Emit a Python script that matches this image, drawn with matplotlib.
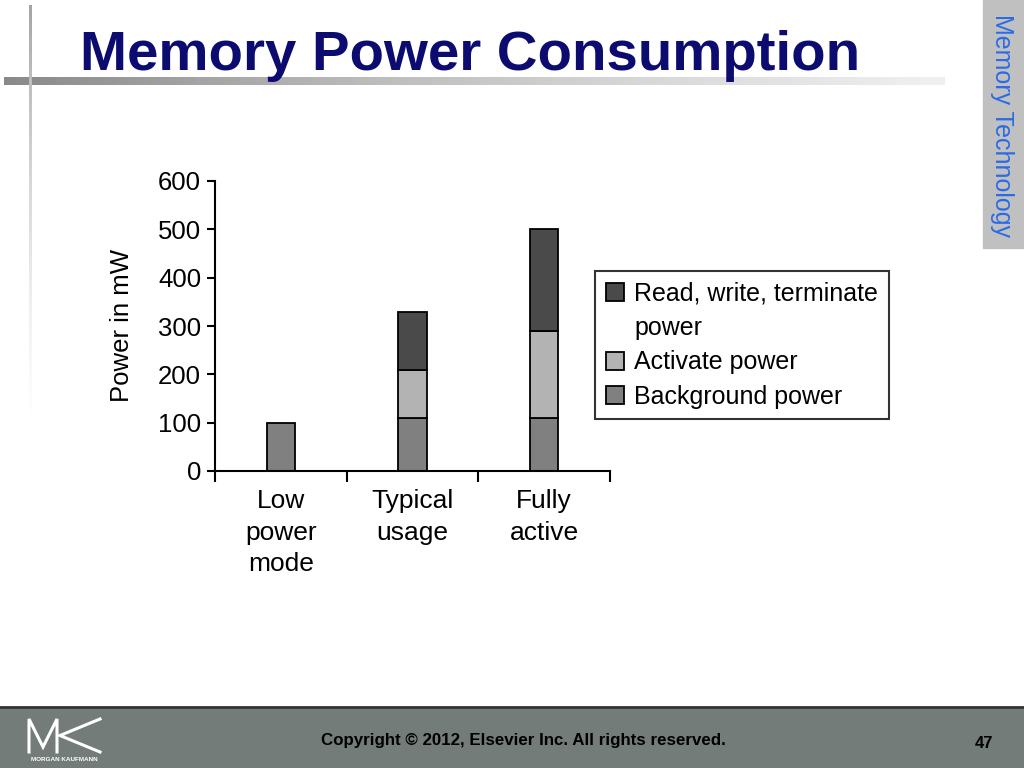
import numpy as np
import matplotlib
matplotlib.use("Agg")
from matplotlib import pyplot as plt
from matplotlib.patches import Rectangle

plt.rcParams['font.family'] = ['Liberation Sans', 'DejaVu Sans']

categories = ["Low\npower\nmode", "Typical\nusage", "Fully\nactive"]
background_power = [100, 110, 110]
activate_power = [0, 100, 180]
rwt_power = [0, 120, 210]
series_labels = ["Read, write, terminate", "power", "Activate power", "Background power"]
y_ticks = [0, 100, 200, 300, 400, 500, 600]

title = "Memory Power Consumption"
side_label = "Memory Technology"
footer_text = "Copyright \u00a9 2012, Elsevier Inc. All rights reserved."
page_number = "47"

fig = plt.figure(figsize=(10.24, 7.68), dpi=100)

# slide decorations (pixel coordinates)
deco = fig.add_axes([0, 0, 1, 1], zorder=-5)
deco.set_xlim(0, 1024)
deco.set_ylim(768, 0)
deco.axis("off")

# horizontal gradient bar under the title
grad = np.linspace(0, 1, 256).reshape(1, -1)
deco.imshow(grad, extent=(4, 945, 85, 77), cmap="Greys_r", vmin=-1.1, vmax=1.3,
            aspect="auto", interpolation="bilinear")
# vertical fading line
vgrad = np.linspace(0, 1, 256).reshape(-1, 1)
deco.imshow(vgrad, extent=(28.5, 31.5, 420, 5), cmap="Greys_r", vmin=-1.2, vmax=1.0,
            aspect="auto", interpolation="bilinear")
# side tab
deco.add_patch(Rectangle((983, 0), 41, 248, color="#c0c0c0"))
deco.text(1002, 126, side_label, rotation=-90, ha="center", va="center",
          fontsize=18, color="#2a6be6")
# footer
deco.add_patch(Rectangle((0, 707), 1024, 61, color="#747c79"))
deco.plot([0, 1024], [707, 707], color="#333333", lw=2)
deco.text(523, 741, footer_text, ha="center", va="center", fontsize=12.2,
          fontweight="bold", color="black")
deco.text(984, 743, page_number, ha="center", va="center", fontsize=12,
          fontweight="bold", color="black")
# MK logo
deco.plot([29, 29, 43, 57, 57], [752, 719, 747, 719, 752], color="white", lw=2.2,
          solid_joinstyle="miter")
deco.plot([100, 60, 100], [719, 735.5, 752], color="white", lw=2.2,
          solid_joinstyle="miter")
deco.text(64, 759.5, "MORGAN KAUFMANN", ha="center", va="center", fontsize=4.6,
          color="white", fontweight="bold")

deco.text(80, 56, title, ha="left", va="center", fontsize=40.6, fontweight="bold",
          color="#0c0c70")

# chart
ax = fig.add_axes([215 / 1024, 1 - 471 / 768, 395 / 1024, 290 / 768])
x = np.arange(len(categories)) + 0.5
w = 0.215
bg = np.array(background_power)
act = np.array(activate_power)
rwt = np.array(rwt_power)
has_act = act > 0

b3 = ax.bar(x, bg, w, color="#808080", edgecolor="black", lw=1.3)
b2 = ax.bar(x[has_act], act[has_act], w, bottom=bg[has_act], color="#b3b3b3",
            edgecolor="black", lw=1.3)
b1 = ax.bar(x[has_act], rwt[has_act], w, bottom=(bg + act)[has_act], color="#4a4a4a",
            edgecolor="black", lw=1.3)

ax.set_xlim(0, 3)
ax.set_ylim(0, 600)
ax.set_yticks(y_ticks)
ax.set_xticks([0, 1, 2, 3])
ax.set_xticklabels([])
ax.set_xticks(x, minor=True)
ax.set_xticklabels(categories, minor=True, fontsize=19, linespacing=1.4)
ax.tick_params(axis="x", which="minor", length=0, pad=13)
ax.tick_params(axis="x", which="major", length=8, width=1.5, direction="out")
ax.tick_params(axis="y", length=6, width=1.5, labelsize=18.5, pad=4)
ax.spines["top"].set_visible(False)
ax.spines["right"].set_visible(False)
ax.spines["left"].set_linewidth(1.5)
ax.spines["bottom"].set_linewidth(1.5)
ax.set_ylabel("Power in mW", fontsize=18.5, labelpad=17)

blank = Rectangle((0, 0), 1, 1, visible=False)
leg = fig.legend([b1, blank, b2, b3], series_labels, loc="upper left",
                 bbox_to_anchor=(595 / 1024, 1 - 271 / 768), fontsize=18,
                 frameon=True, fancybox=False, edgecolor="black",
                 handlelength=0.75, handleheight=0.75, handletextpad=0.4,
                 labelspacing=0.42, borderpad=0.42, borderaxespad=0)
leg.get_frame().set_linewidth(1.5)

fig.savefig("out.png", dpi=100)
